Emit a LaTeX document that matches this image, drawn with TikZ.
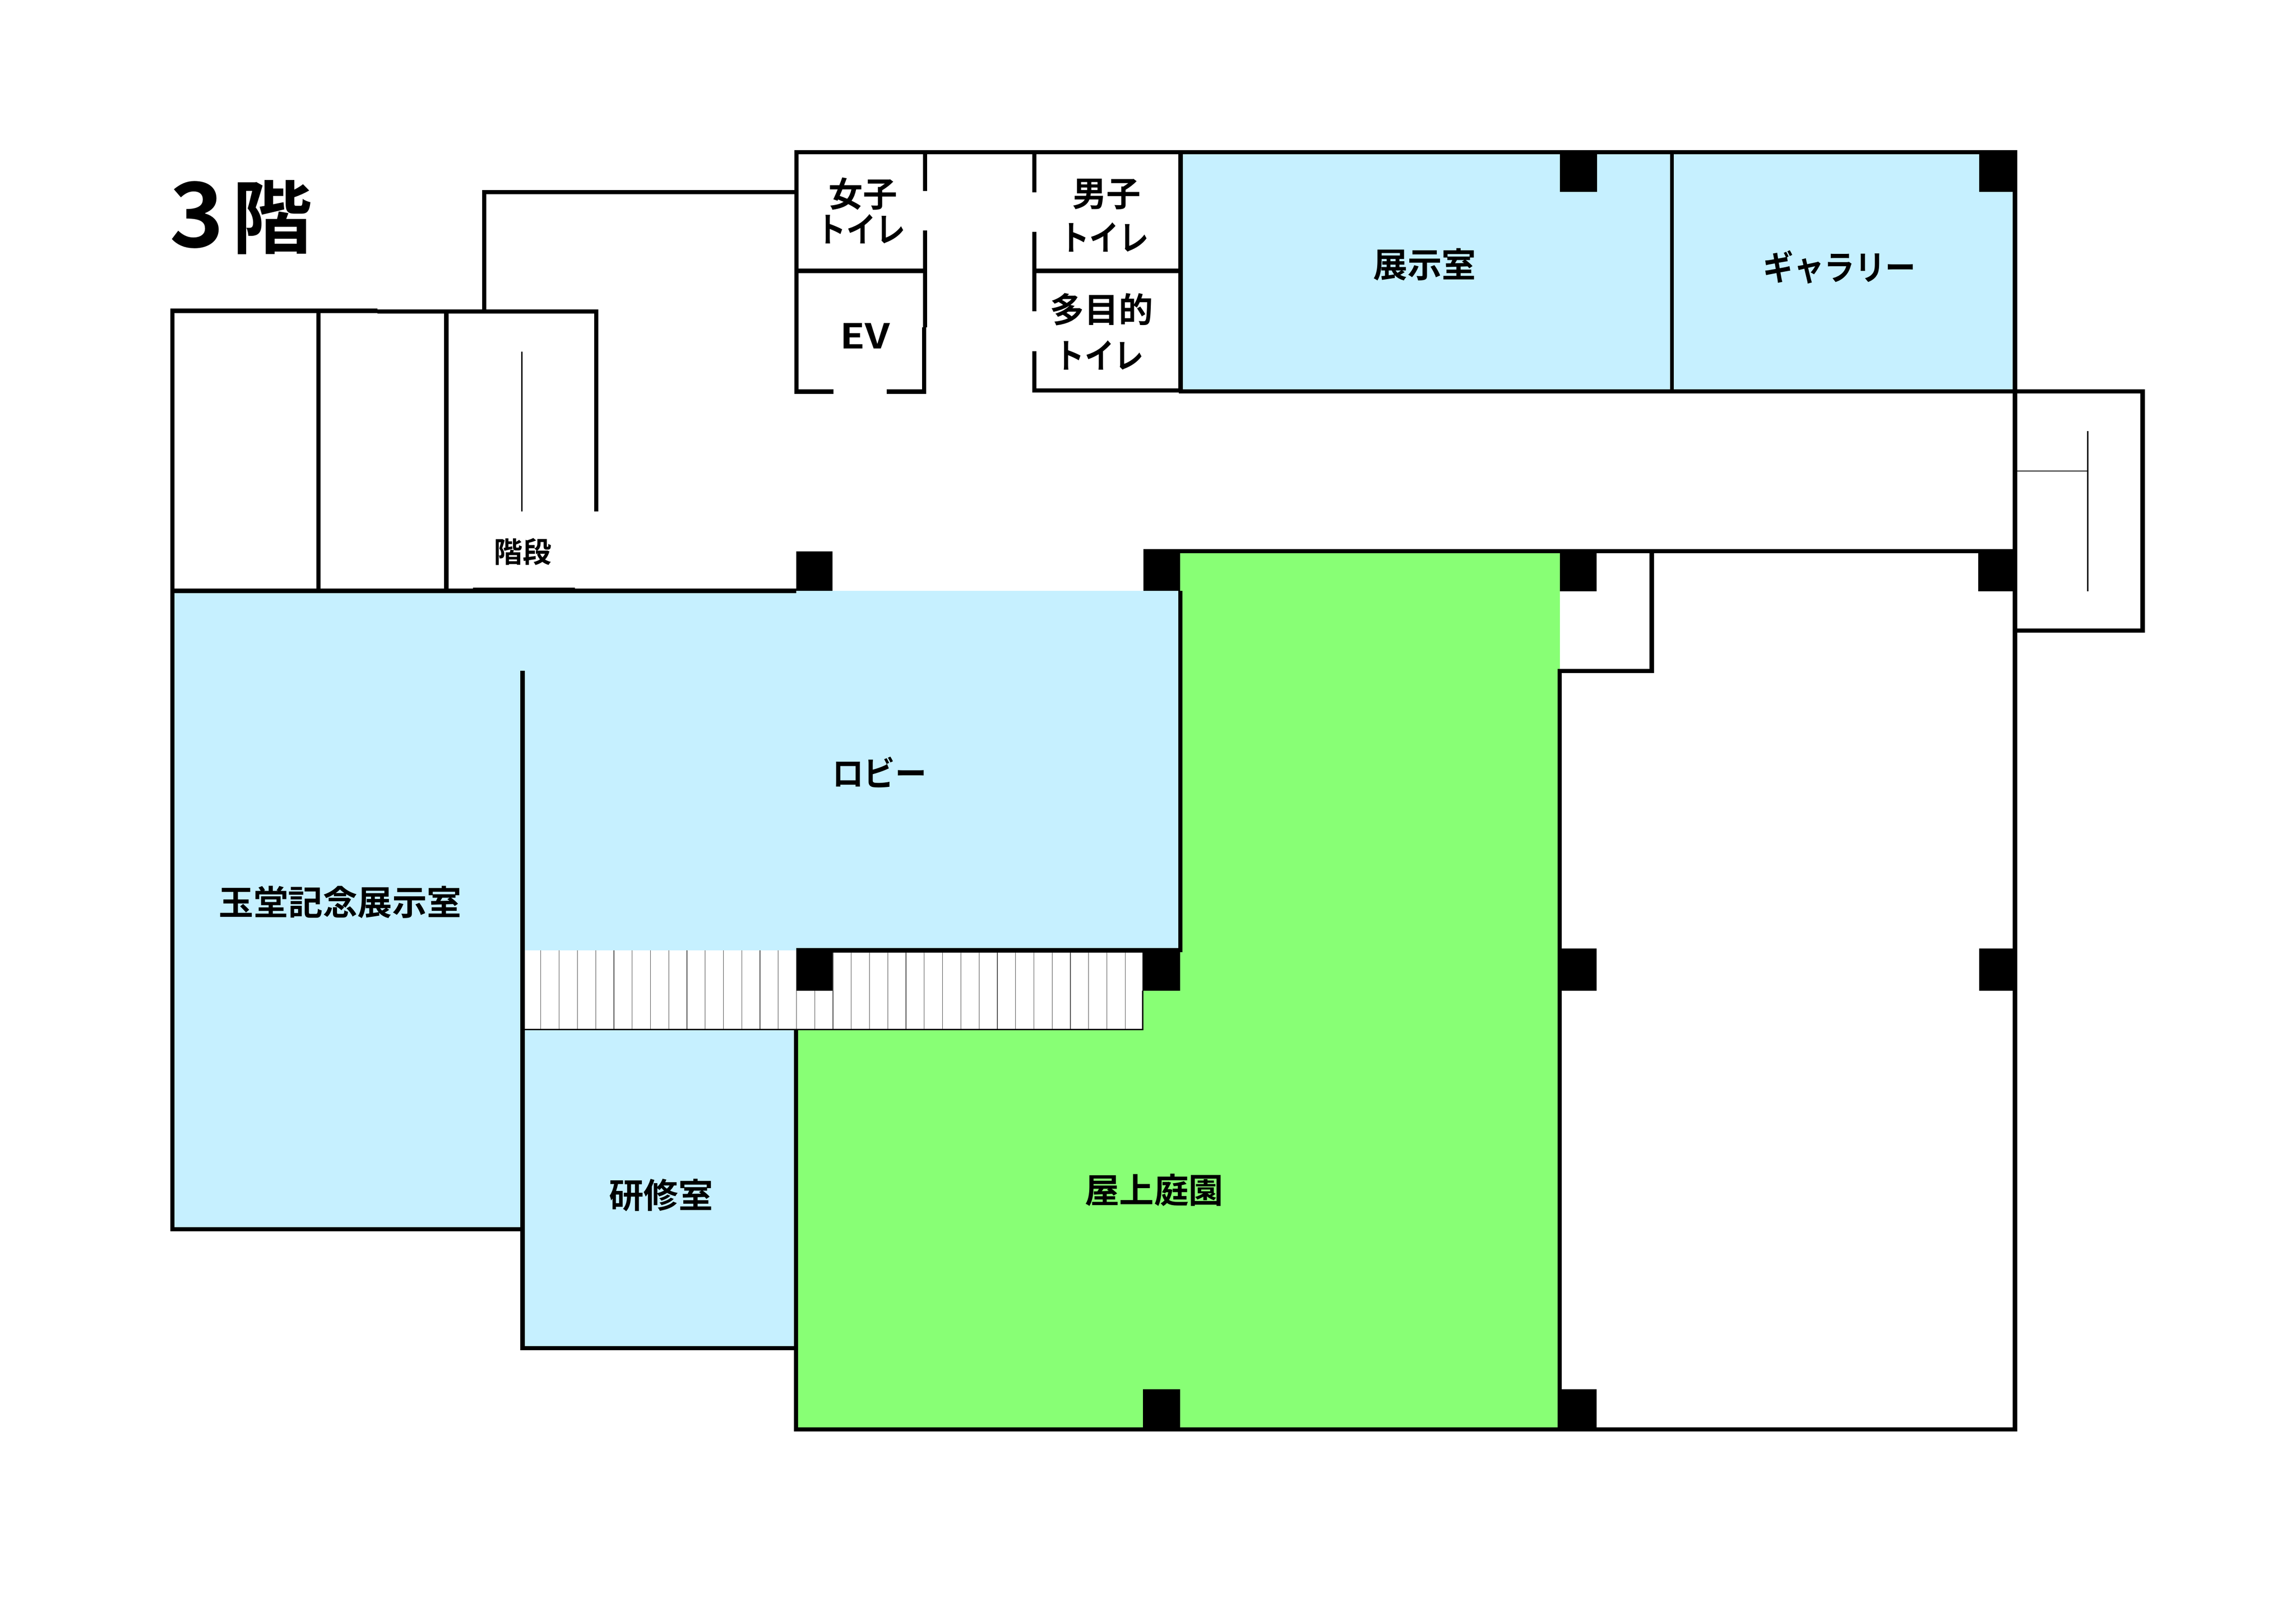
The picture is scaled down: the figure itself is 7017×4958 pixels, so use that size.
\documentclass[tikz,border=0pt]{standalone}
\usepackage{fontspec}
\setmainfont{Noto Sans CJK JP Bold}
\definecolor{roomblue}{HTML}{C6F0FF}
\definecolor{gardengreen}{HTML}{88FF75}
\tikzset{
  wall/.style={line width=1.3pt,line cap=butt,line join=miter,black},
  thinwall/.style={line width=0.4pt,line cap=butt,black},
  tread/.style={line width=0.17pt,black!70},
  pillar/.style={fill=black,draw=none},
  lab/.style={inner sep=0pt,outer sep=0pt,align=center,text=black,font=\fontsize{10.5pt}{12pt}\selectfont},
  smalllab/.style={lab,font=\fontsize{8.8pt}{10pt}\selectfont},
  toilet/.style={lab,font=\fontsize{10.5pt}{12pt}\selectfont},
  titlelab/.style={lab,font=\fontsize{24.5pt}{26pt}\selectfont}
}
\begin{document}
\begin{tikzpicture}[x=0.1pt,y=-0.1pt]
\useasboundingbox (0,0) rectangle (7017,4958);
\fill[white] (0,0) rectangle (7017,4958);
% room fills
\fill[roomblue] (3608,465) rectangle (6158,1196);
\fill[roomblue] (527,1806) -- (3607,1806) -- (3607,2905) -- (1597,2905) -- (1597,3758) -- (527,3758) -- cycle;
\fill[roomblue] (1597,3147) rectangle (2433,4121);
\fill[gardengreen] (3607,1685) -- (4767,1685) -- (4767,4369) -- (2433,4369) -- (2433,3147) -- (3492,3147) -- (3492,3028) -- (3607,3028) -- cycle;
% stair treads
\fill[white] (1597,2905) rectangle (3492,3147);
\foreach \i in {0,...,32} {
  \pgfmathsetmacro{\tx}{1653+55.8*\i}
  \draw[tread] (\tx,2905) -- (\tx,3147);
}
% upper block outline
\draw[wall] (2434,1197) -- (2434,465) -- (6158,465) -- (6158,4369) -- (2433,4369) -- (2433,3147);
\draw[wall] (1480,952) -- (1480,587) -- (2434,587);
% left top rooms
\draw[wall] (527,3758) -- (527,950) -- (1153,950);
\draw[wall] (1153,952) -- (1822,952) -- (1822,1563);
\draw[wall] (973,950) -- (973,1806);
\draw[wall] (1364,952) -- (1364,1806);
\draw[thinwall] (1595,1075) -- (1595,1563);
\draw[wall] (521,1806) -- (2433,1806);
\draw[wall] (1445,1803) -- (1757,1803);
% toilets
\draw[wall] (2827,465) -- (2827,584);
\draw[wall] (2827,704) -- (2827,1000);
\draw[wall] (2824,1000) -- (2824,1203);
\draw[wall] (2434,828) -- (2827,828);
\draw[wall] (2428,1197) -- (2547,1197);
\draw[wall] (2710,1197) -- (2830,1197);
\draw[wall] (3161,465) -- (3161,588);
\draw[wall] (3161,709) -- (3161,951);
\draw[wall] (3161,1073) -- (3161,1200);
\draw[wall] (3155,828) -- (3608,828);
\draw[wall] (3155,1194) -- (3608,1194);
% exhibition rooms
\draw[wall] (3608,465) -- (3608,1196);
\draw[wall,line width=1.1pt] (5110,465) -- (5110,1196);
% right annex, continuing the corridor's north wall
\draw[wall] (3602,1196) -- (6548,1196) -- (6548,1928) -- (6152,1928);
\draw[thinwall] (6380,1318) -- (6380,1808);
\draw[thinwall,line width=0.3pt] (6158,1440) -- (6380,1440);
% corridor and east side
\draw[wall] (3494,1685) -- (6158,1685);
\draw[wall] (5048,1685) -- (5048,2057);
\draw[wall] (4767,4369) -- (4767,2051) -- (5048,2051);
% central block
\draw[wall] (3607,1806) -- (3607,2911);
\draw[wall] (1597,2050) -- (1597,4121) -- (2433,4121);
\draw[wall] (521,3758) -- (1597,3758);
\draw[wall] (2433,2905) -- (3607,2905);
\draw[thinwall] (1597,3147) -- (3494,3147);
\draw[thinwall] (3492,3028) -- (3492,3149);
% pillars
\foreach \px/\py/\qx/\qy in {4767/465/4881/587, 6049/465/6164/587,
  2433/1685/2545/1806, 3494/1680/3607/1806, 4767/1685/4880/1808, 6046/1680/6164/1808,
  2433/2899/2545/3028, 3492/2899/3607/3028, 4767/2899/4880/3028, 6049/2899/6158/3028,
  3493/4247/3606/4369, 4767/4247/4880/4369}
  \fill[pillar] (\px,\py) rectangle (\qx,\qy);
% labels
\node[titlelab] (title) at (737,664) {\scalebox{1.15}[1.12]{3}\hspace{0.1em}階};
\node[toilet] (wc1a) at (2637,592) {女子};
\node[toilet] (wc1b) at (2632,700) {\scalebox{0.86}[1]{トイレ}};
\node[toilet] (wc2a) at (3382,594) {男子};
\node[toilet] (wc2b) at (3375,725) {\scalebox{0.86}[1]{トイレ}};
\node[toilet] (wc3a) at (3367,946) {多目的};
\node[toilet] (wc3b) at (3360,1086) {\scalebox{0.86}[1]{トイレ}};
\node[lab] (ev) at (2644,1027) {\scalebox{1.18}[1]{EV}};
\node[lab] (gallery) at (5622,816) {\scalebox{0.89}[1]{ギャラリー}};
\node[lab] (tenji) at (4354,808) {展示室};
\node[smalllab] (stairs) at (1598,1686) {階段};
\node[lab] (lobby) at (2688,2360) {\scalebox{0.92}[1]{ロビー}};
\node[lab] (gyokudo) at (1040,2758) {\scalebox{1.01}[1]{玉堂記念展示室}};
\node[lab] (kenshu) at (2020,3654) {\scalebox{1.01}[1]{研修室}};
\node[lab] (garden) at (3527,3638) {\scalebox{1.01}[1]{屋上庭園}};
\end{tikzpicture}
\end{document}
